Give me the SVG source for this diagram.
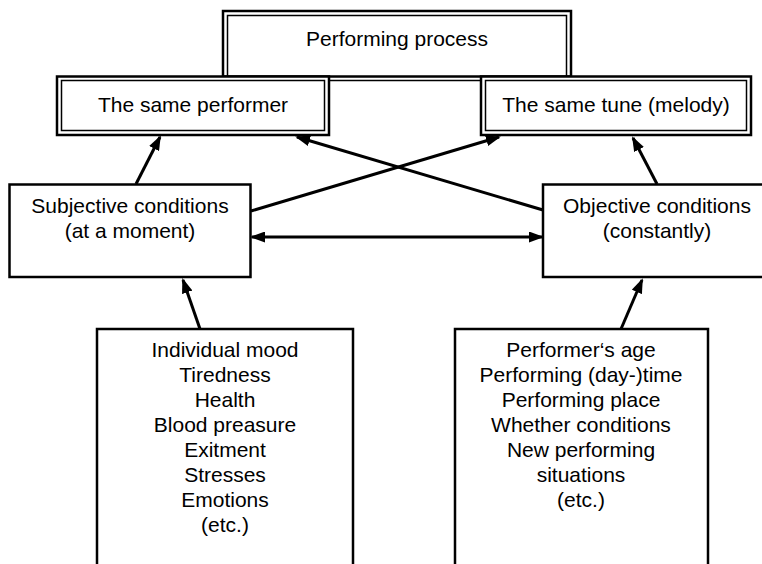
<svg xmlns="http://www.w3.org/2000/svg" width="762" height="564" viewBox="0 0 762 564">
<defs>
<style>
.box{fill:#fff;stroke:#000;stroke-width:2.5}
.inner{fill:none;stroke:#000;stroke-width:1.5}
.lbl{font-family:"Liberation Sans",Arial,sans-serif;font-size:21px;text-anchor:middle;fill:#000}
.con{stroke:#000;stroke-width:3;fill:none}
</style>
<marker id="ah" markerUnits="userSpaceOnUse" markerWidth="15" markerHeight="11" refX="13" refY="5.5" orient="auto-start-reverse">
<path d="M0,0 L15,5.5 L0,11 z" fill="#000"/>
</marker>
</defs>
<rect width="762" height="564" fill="#fff"/>
<g id="performing-process">
<rect class="box" x="223" y="11" width="348" height="65.5"/>
<rect class="inner" x="227.5" y="15.5" width="339" height="65"/>
<text class="lbl" x="397" y="46">Performing process</text>
</g>
<g id="same-performer">
<rect class="box" x="57" y="76.5" width="272" height="58.5"/>
<rect class="inner" x="61.5" y="80.5" width="263" height="50"/>
<text class="lbl" x="193" y="112">The same performer</text>
</g>
<g id="same-tune">
<rect class="box" x="481" y="76.5" width="270" height="58.5"/>
<rect class="inner" x="485.5" y="80.5" width="261" height="50"/>
<text class="lbl" x="616" y="112">The same tune (melody)</text>
</g>
<g id="subjective">
<rect class="box" x="9.5" y="184.5" width="241" height="92.5"/>
<text class="lbl" x="130" y="213">Subjective conditions</text>
<text class="lbl" x="130" y="238">(at a moment)</text>
</g>
<g id="objective">
<rect class="box" x="543" y="184.5" width="240" height="92.5"/>
<text class="lbl" x="657" y="213">Objective conditions</text>
<text class="lbl" x="657" y="238">(constantly)</text>
</g>
<g id="subjective-list">
<rect class="box" x="97" y="329" width="256" height="260"/>
<text class="lbl" x="225" y="357">Individual mood</text>
<text class="lbl" x="225" y="382">Tiredness</text>
<text class="lbl" x="225" y="407">Health</text>
<text class="lbl" x="225" y="432">Blood preasure</text>
<text class="lbl" x="225" y="457">Exitment</text>
<text class="lbl" x="225" y="482">Stresses</text>
<text class="lbl" x="225" y="507">Emotions</text>
<text class="lbl" x="225" y="532">(etc.)</text>
</g>
<g id="objective-list">
<rect class="box" x="455" y="329" width="253" height="260"/>
<text class="lbl" x="581" y="357">Performer‘s age</text>
<text class="lbl" x="581" y="382">Performing (day-)time</text>
<text class="lbl" x="581" y="407">Performing place</text>
<text class="lbl" x="581" y="432">Whether conditions</text>
<text class="lbl" x="581" y="457">New performing</text>
<text class="lbl" x="581" y="482">situations</text>
<text class="lbl" x="581" y="507">(etc.)</text>
</g>
<g id="connectors">
<line class="con" x1="136" y1="184" x2="160" y2="137" marker-end="url(#ah)"/>
<line class="con" x1="251" y1="211" x2="499" y2="137" marker-end="url(#ah)"/>
<line class="con" x1="543" y1="210" x2="297" y2="137" marker-end="url(#ah)"/>
<line class="con" x1="657" y1="184" x2="633" y2="138" marker-end="url(#ah)"/>
<line class="con" x1="252" y1="237" x2="542" y2="237" marker-start="url(#ah)" marker-end="url(#ah)"/>
<line class="con" x1="200" y1="329" x2="183" y2="280" marker-end="url(#ah)"/>
<line class="con" x1="621" y1="329" x2="642" y2="280" marker-end="url(#ah)"/>
</g>
</svg>
